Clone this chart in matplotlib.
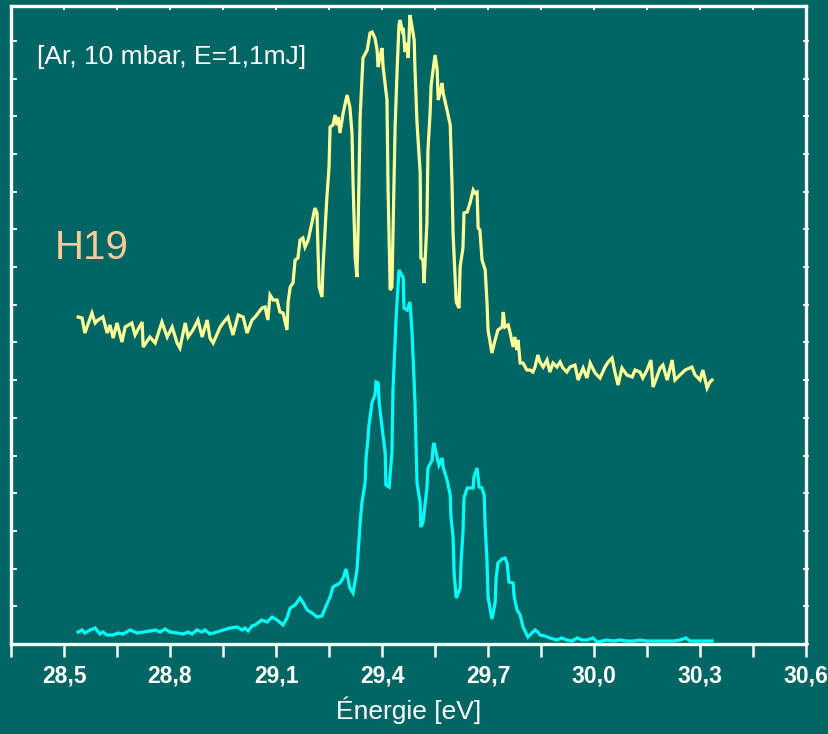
import numpy as np
import matplotlib
matplotlib.use("Agg")
import matplotlib.pyplot as plt
from matplotlib.ticker import MultipleLocator, FixedLocator, FixedFormatter

# ---- data (energy in eV, intensity in arbitrary units) ----
h19_upper_E = [28.540, 28.551, 28.559, 28.579, 28.588, 28.596, 28.610, 28.622, 28.630, 28.639,
               28.650, 28.664, 28.673, 28.692, 28.701, 28.721, 28.724, 28.743, 28.758, 28.777,
               28.792, 28.806, 28.820, 28.828, 28.843, 28.851, 28.865, 28.879, 28.891, 28.905,
               28.913, 28.922, 28.942, 28.950, 28.964, 28.978, 28.993, 29.007, 29.018, 29.032,
               29.041, 29.060, 29.069, 29.077, 29.083, 29.092, 29.103, 29.111, 29.120, 29.131,
               29.134, 29.140, 29.148, 29.154, 29.162, 29.168, 29.176, 29.182, 29.191, 29.202,
               29.210, 29.216, 29.219, 29.222, 29.230, 29.233, 29.244, 29.250, 29.253, 29.261,
               29.267, 29.273, 29.276, 29.281, 29.290, 29.301, 29.309, 29.315, 29.318, 29.324,
               29.329, 29.332, 29.338, 29.346, 29.358, 29.366, 29.372, 29.380, 29.386, 29.389,
               29.394, 29.400, 29.403, 29.414, 29.417, 29.423, 29.428, 29.437, 29.443, 29.448,
               29.451, 29.457, 29.460, 29.465, 29.471, 29.474, 29.479, 29.485, 29.491, 29.493,
               29.499, 29.508, 29.510, 29.516, 29.519, 29.527, 29.530, 29.536, 29.539, 29.550,
               29.556, 29.559, 29.564, 29.570, 29.573, 29.584, 29.593, 29.598, 29.601, 29.610,
               29.618, 29.621, 29.629, 29.632, 29.641, 29.649, 29.658, 29.663, 29.669, 29.672,
               29.677, 29.683, 29.692, 29.697, 29.700, 29.711, 29.720, 29.728, 29.740, 29.743,
               29.748, 29.757, 29.762, 29.771, 29.776, 29.782, 29.785, 29.791, 29.799, 29.810,
               29.819, 29.827, 29.833, 29.841, 29.847, 29.856, 29.867, 29.875, 29.884, 29.895,
               29.904, 29.912, 29.923, 29.932, 29.946, 29.955, 29.969, 29.980, 29.989, 30.003,
               30.017, 30.031, 30.040, 30.051, 30.059, 30.068, 30.079, 30.093, 30.108, 30.116,
               30.130, 30.138, 30.150, 30.161, 30.167, 30.178, 30.187, 30.195, 30.207, 30.221,
               30.229, 30.243, 30.258, 30.277, 30.286, 30.300, 30.308, 30.320, 30.328, 30.334]
h19_upper_I = [327, 326, 311, 331, 321, 324, 327, 311, 319, 306,
               321, 302, 317, 321, 309, 322, 297, 307, 301, 322,
               307, 317, 301, 296, 321, 307, 314, 324, 307, 324,
               306, 301, 317, 321, 327, 309, 329, 327, 311, 324,
               327, 336, 337, 324, 349, 344, 344, 332, 331, 314,
               341, 357, 361, 384, 386, 404, 406, 397, 404, 422,
               436, 431, 391, 357, 347, 377, 447, 477, 517, 519,
               529, 519, 527, 511, 531, 549, 537, 511, 461, 387,
               367, 411, 527, 586, 594, 611, 612, 606, 594, 577,
               587, 596, 577, 544, 457, 354, 357, 517, 577, 619,
               624, 614, 616, 592, 601, 586, 629, 617, 604, 577,
               521, 471, 386, 384, 361, 421, 494, 531, 559, 589,
               574, 544, 551, 561, 551, 534, 519, 461, 411, 342,
               336, 377, 396, 431, 432, 441, 454, 451, 452, 416,
               414, 384, 374, 342, 314, 291, 304, 314, 317, 332,
               317, 319, 312, 297, 307, 294, 304, 281, 281, 274,
               274, 272, 277, 289, 282, 277, 284, 272, 281, 277,
               282, 276, 272, 277, 279, 264, 276, 266, 281, 271,
               266, 277, 282, 286, 272, 259, 276, 269, 267, 274,
               272, 266, 274, 284, 257, 267, 276, 279, 264, 284,
               264, 269, 274, 277, 269, 264, 274, 256, 262, 264]

h19_lower_E = [28.540, 28.551, 28.559, 28.574, 28.588, 28.602, 28.610, 28.622, 28.639, 28.653,
               28.667, 28.687, 28.707, 28.724, 28.743, 28.758, 28.772, 28.786, 28.800, 28.820,
               28.837, 28.851, 28.862, 28.876, 28.891, 28.899, 28.913, 28.933, 28.950, 28.970,
               28.990, 29.004, 29.012, 29.021, 29.032, 29.041, 29.060, 29.075, 29.089, 29.103,
               29.120, 29.131, 29.140, 29.154, 29.168, 29.176, 29.188, 29.202, 29.216, 29.230,
               29.239, 29.253, 29.261, 29.281, 29.290, 29.298, 29.309, 29.318, 29.329, 29.338,
               29.343, 29.352, 29.355, 29.360, 29.363, 29.372, 29.380, 29.383, 29.389, 29.392,
               29.400, 29.409, 29.411, 29.420, 29.428, 29.431, 29.440, 29.448, 29.460, 29.462,
               29.471, 29.479, 29.485, 29.493, 29.499, 29.508, 29.510, 29.516, 29.527, 29.530,
               29.542, 29.544, 29.547, 29.553, 29.561, 29.570, 29.573, 29.584, 29.593, 29.595,
               29.601, 29.604, 29.610, 29.621, 29.624, 29.629, 29.632, 29.641, 29.658, 29.660,
               29.669, 29.675, 29.683, 29.689, 29.692, 29.697, 29.700, 29.711, 29.720, 29.723,
               29.728, 29.740, 29.748, 29.754, 29.759, 29.771, 29.774, 29.782, 29.791, 29.799,
               29.813, 29.824, 29.833, 29.841, 29.847, 29.861, 29.875, 29.895, 29.909, 29.923,
               29.938, 29.952, 29.966, 29.980, 29.997, 30.009, 30.023, 30.037, 30.054, 30.074,
               30.093, 30.110, 30.130, 30.150, 30.167, 30.187, 30.207, 30.224, 30.243, 30.260,
               30.272, 30.300, 30.328, 30.334]
h19_lower_I = [12, 14, 11, 14, 16, 10, 12, 9, 9, 11,
               10, 14, 11, 12, 13, 14, 12, 15, 12, 11,
               10, 12, 10, 14, 12, 14, 10, 12, 14, 16,
               17, 14, 16, 13, 18, 19, 24, 22, 27, 24,
               19, 26, 36, 39, 46, 42, 34, 31, 27, 28,
               36, 47, 57, 61, 66, 75, 56, 51, 74, 121,
               141, 161, 187, 204, 219, 242, 249, 262, 261, 241,
               217, 191, 159, 157, 191, 254, 327, 374, 366, 336,
               334, 342, 311, 244, 161, 141, 117, 122, 156, 176,
               184, 196, 201, 191, 179, 186, 177, 164, 149, 127,
               107, 71, 46, 56, 84, 111, 146, 156, 156, 167,
               176, 157, 156, 149, 117, 84, 47, 25, 41, 66,
               81, 85, 86, 81, 62, 61, 47, 34, 29, 17,
               7, 11, 14, 12, 9, 8, 6, 4, 6, 4,
               3, 6, 4, 4, 6, 2, 3, 4, 3, 4,
               3, 3, 4, 3, 3, 3, 3, 3, 4, 6,
               3, 3, 3, 3]

x_ticks = [28.5, 28.8, 29.1, 29.4, 29.7, 30.0, 30.3, 30.6]
x_ticklabels = ["28,5", "28,8", "29,1", "29,4", "29,7", "30,0", "30,3", "30,6"]
annotation = "[Ar, 10 mbar, E=1,1mJ]"
harmonic_label = "H19"
x_label = "Énergie [eV]"

# ---- style ----
bg = "#006663"
sans = ["Liberation Sans", "DejaVu Sans"]

fig = plt.figure(figsize=(8.29, 7.34), dpi=100, facecolor=bg)
ax = fig.add_axes([0.0133, 0.1226, 0.9590, 0.8692], facecolor=bg)

ax.plot(h19_upper_E, h19_upper_I, color="#FFFF99", lw=2.3, solid_joinstyle="miter")
ax.plot(h19_lower_E, h19_lower_I, color="#00FFFF", lw=2.3, solid_joinstyle="miter")

ax.set_xlim(28.35, 30.6)
ax.set_ylim(0, 638)

for s in ax.spines.values():
    s.set_color("white")
    s.set_linewidth(2.4)

ax.xaxis.set_major_locator(FixedLocator(x_ticks))
ax.xaxis.set_major_formatter(FixedFormatter(x_ticklabels))
ax.xaxis.set_minor_locator(FixedLocator([28.35, 28.65, 28.95, 29.25, 29.55, 29.85, 30.15, 30.45]))
ax.tick_params(axis="x", which="both", bottom=True, top=False, direction="out",
               length=9, width=1.8, color="white", labelcolor="white", pad=6)
ax.yaxis.set_major_locator(MultipleLocator(37.7))
ax.tick_params(axis="y", which="both", left=True, right=False, direction="in",
               length=4, width=1.3, color="white", labelleft=False)

# right ticks crossing the spine
secy = ax.secondary_yaxis("right")
secy.yaxis.set_major_locator(MultipleLocator(37.7))
secy.tick_params(direction="inout", length=5, width=1.3, color="white", labelright=False)
secy.spines["right"].set_visible(False)

# top ticks inward and short
sec = ax.secondary_xaxis("top")
sec.set_xticks([28.35 + 0.15 * k for k in range(16)])
sec.tick_params(direction="in", length=3, width=1.3, color="white", labeltop=False)
sec.spines["top"].set_visible(False)

for lab in ax.get_xticklabels():
    lab.set_fontfamily(sans)
    lab.set_fontweight("bold")
    lab.set_fontsize(16.5)

ax.set_xlabel(x_label, color="white", fontsize=19, family=sans, labelpad=6)

ax.text(0.033, 0.92, annotation, transform=ax.transAxes, color="white",
        fontsize=19, family=sans, va="center", ha="left")
ax.text(0.055, 0.62, harmonic_label, transform=ax.transAxes, color="#FFCC99",
        fontsize=29, family=sans, va="center", ha="left")

fig.savefig("out.png", dpi=100, facecolor=bg)
